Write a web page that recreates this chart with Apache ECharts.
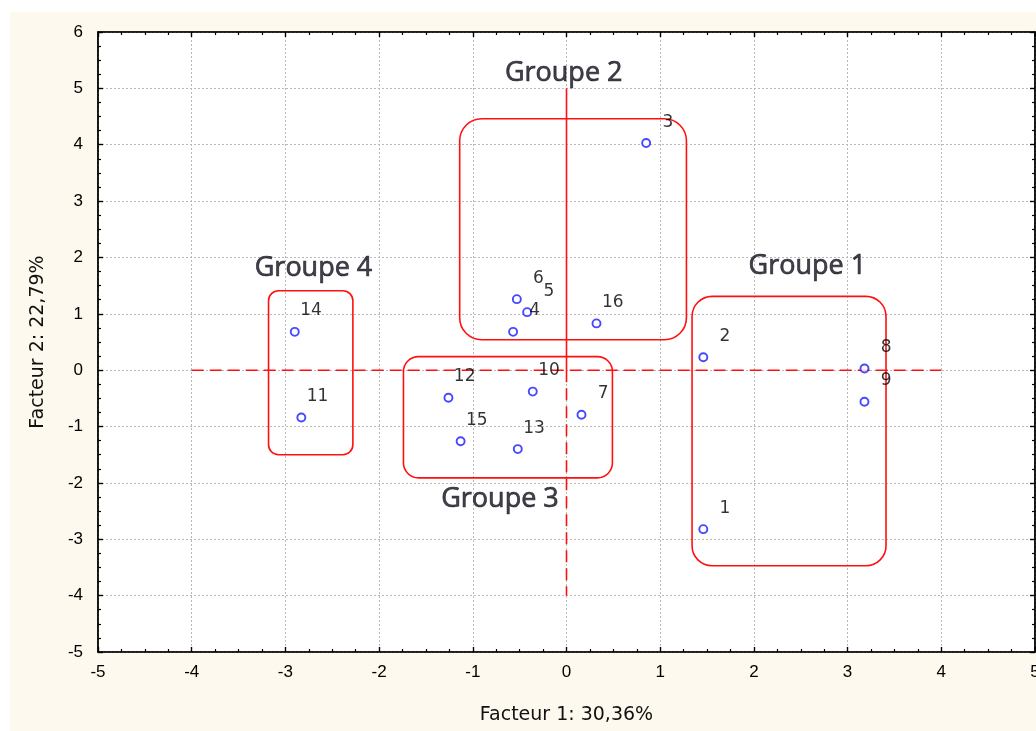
<!DOCTYPE html>
<html>
<head>
<meta charset="utf-8">
<title>Facteur 1 / Facteur 2</title>
<script src="https://cdn.jsdelivr.net/npm/echarts@6/dist/echarts.min.js"></script>
<style>
  html, body { margin: 0; padding: 0; background: #ffffff; }
  #frame { position: absolute; left: 10px; top: 12px; width: 1026px; height: 719px; background: #fdf9ee; }
  #chart { position: absolute; left: 0; top: 0; width: 1036px; height: 731px; }
</style>
</head>
<body>
<div id="frame"></div>
<div id="chart"></div>
<script>
// Individuals projected on the first factorial plane
const pointIds = ['1', '2', '3', '4', '5', '6', '7', '8', '9', '10', '11', '12', '13', '14', '15', '16'];
const factor1 = [1.46, 1.46, 0.85, -0.57, -0.42, -0.53, 0.16, 3.18, 3.18, -0.36, -2.83, -1.26, -0.52, -2.90, -1.13, 0.32];
const factor2 = [-2.82, 0.23, 4.03, 0.68, 1.03, 1.26, -0.79, 0.03, -0.56, -0.38, -0.84, -0.49, -1.40, 0.68, -1.26, 0.83];

// Axis ranges and tick step
const xRange = [-5, 5];
const yRange = [-5, 6];
const tickStep = 1;

// Group enclosures: [xMin, yMin, xMax, yMax]
const groupNames = ['Groupe 1', 'Groupe 2', 'Groupe 3', 'Groupe 4'];
const groupBoxes = [
  [1.34, -3.47, 3.41, 1.31],
  [-1.14, 0.54, 1.28, 4.46],
  [-1.74, -1.91, 0.49, 0.24],
  [-3.18, -1.50, -2.28, 1.41]
];
// Where each group title sits
const groupTitleX = [2.57, -0.03, -0.71, -2.70];
const groupTitleY = [1.85, 5.26, -2.29, 1.81];

// Reference cross through the origin
const horizontalRef = [[-4, 0], [4, 0]];
const verticalRefSolid = [[0, 5], [0, 0]];
const verticalRefDashed = [[0, 0], [0, -4]];

const xAxisName = 'Facteur 1: 30,36%';
const yAxisName = 'Facteur 2: 22,79%';

const RED = '#ff1010';
const BOX_RADIUS = [20, 22, 15, 10];
const tickFont = { fontFamily: 'Liberation Sans, Arial, sans-serif', fontSize: 17, color: '#000' };
const nameFont = { fontFamily: 'DejaVu Sans, sans-serif', fontSize: 19, color: '#111' };

function baseAxis(extra) {
  return Object.assign({
    type: 'value',
    interval: tickStep,
    axisLine: { show: true, onZero: false, lineStyle: { color: '#000', width: 1.6 } },
    axisTick: { show: true, inside: true, length: 5, lineStyle: { color: '#000', width: 1.4 } },
    minorTick: { show: true, splitNumber: 4, length: 3, lineStyle: { color: '#000', width: 1.2 } },
    splitLine: { show: false },
    axisLabel: { show: false }
  }, extra);
}

const gridLine = { show: true, lineStyle: { color: '#b8b8b8', width: 1, type: [2, 2] } };

const chart = echarts.init(document.getElementById('chart'), null, { renderer: 'canvas' });

chart.setOption({
  animation: false,
  grid: {
    left: 98, top: 32, width: 937, height: 620,
    outerBoundsMode: 'none',
    show: true, backgroundColor: '#ffffff', borderColor: '#000', borderWidth: 1.2
  },
  xAxis: [
    baseAxis({
      min: xRange[0], max: xRange[1], position: 'bottom',
      splitLine: gridLine,
      axisLabel: Object.assign({ show: true, margin: 12 }, tickFont),
      name: xAxisName, nameLocation: 'middle', nameGap: 54,
      nameTextStyle: nameFont
    }),
    baseAxis({ min: xRange[0], max: xRange[1], position: 'top' })
  ],
  yAxis: [
    baseAxis({
      min: yRange[0], max: yRange[1], position: 'left',
      splitLine: gridLine,
      axisLabel: Object.assign({ show: true, margin: 15 }, tickFont),
      name: yAxisName, nameLocation: 'middle', nameGap: 50,
      nameTextStyle: nameFont
    }),
    baseAxis({ min: yRange[0], max: yRange[1], position: 'right' })
  ],
  series: [
    {
      type: 'line', data: horizontalRef, symbol: 'none', silent: true,
      lineStyle: { color: RED, width: 1.6, type: [12, 6] }, z: 3
    },
    {
      type: 'line', data: verticalRefSolid, symbol: 'none', silent: true,
      lineStyle: { color: RED, width: 1.6 }, z: 3
    },
    {
      type: 'line', data: verticalRefDashed, symbol: 'none', silent: true,
      lineStyle: { color: RED, width: 1.6, type: [12, 6] }, z: 3
    },
    {
      type: 'custom', silent: true, z: 4,
      encode: { x: [0, 2], y: [1, 3] },
      data: groupBoxes,
      renderItem: function (params, api) {
        const a = api.coord([api.value(0), api.value(3)]);
        const b = api.coord([api.value(2), api.value(1)]);
        return {
          type: 'rect',
          shape: { x: a[0], y: a[1], width: b[0] - a[0], height: b[1] - a[1], r: BOX_RADIUS[params.dataIndex] },
          style: { fill: 'none', stroke: RED, lineWidth: 1.6 }
        };
      }
    },
    {
      type: 'scatter', silent: true, z: 5,
      symbolSize: 0,
      data: groupNames.map((n, i) => ({ name: n, value: [groupTitleX[i], groupTitleY[i]] })),
      label: {
        show: true, position: 'inside', formatter: '{b}',
        fontFamily: 'Open Sans, sans-serif', fontSize: 27, color: '#12121e',
        textBorderColor: '#12121e', textBorderWidth: 0.7
      }
    },
    {
      type: 'scatter', z: 6,
      symbol: 'circle', symbolSize: 8,
      itemStyle: { color: '#ffffff', borderColor: '#1a1aff', borderWidth: 1.9 },
      data: pointIds.map((id, i) => ({ name: id, value: [factor1[i], factor2[i]] })),
      label: {
        show: true, formatter: '{b}', position: [32, -16], align: 'right', verticalAlign: 'middle',
        fontFamily: 'DejaVu Sans, sans-serif', fontSize: 17, color: '#000'
      }
    }
  ]
});
</script>
</body>
</html>
